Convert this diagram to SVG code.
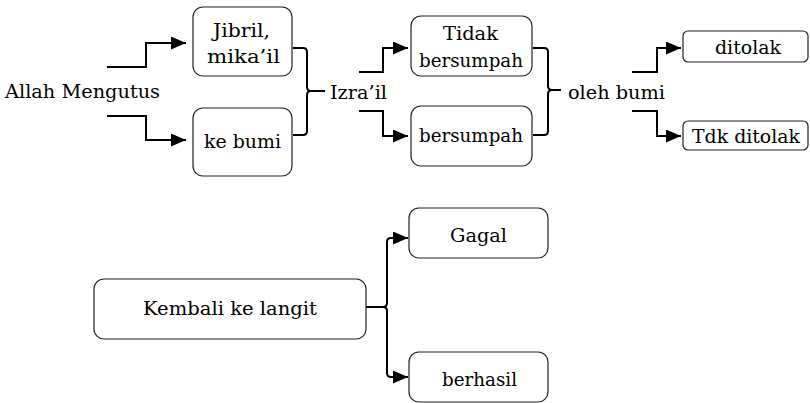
<svg xmlns="http://www.w3.org/2000/svg" width="810" height="403" viewBox="0 0 810 403">
<defs>
<marker id="ah" markerWidth="15" markerHeight="13" refX="15" refY="6.5" orient="auto" markerUnits="userSpaceOnUse">
<path d="M0,0 L15,6.5 L0,13 Z" fill="#000"/>
</marker>
<style>
.box{fill:#fff;stroke:#222;stroke-width:1.2}
.ln{fill:none;stroke:#000;stroke-width:2}
.arr{fill:none;stroke:#000;stroke-width:2;marker-end:url(#ah)}
</style>
</defs>
<rect width="810" height="403" fill="#fff"/>
<g id="connectors">
<path class="arr" d="M107,67 H146 V43 H186"/>
<path class="arr" d="M107,116 H146 V140 H186"/>
<path class="ln" d="M293,48 H303 Q307,48 307,52 V87 Q307,91 311,91 H325 M311,91 Q307,91 307,95 V131 Q307,135 303,135 H293"/>
<path class="arr" d="M359,72 H383 V48 H408"/>
<path class="arr" d="M359,111 H383 V136 H408"/>
<path class="ln" d="M533,48 H544 Q548,48 548,52 V86 Q548,90 552,90 H561 M552,90 Q548,90 548,94 V131 Q548,135 544,135 H533"/>
<path class="arr" d="M632,72 H657 V48 H681"/>
<path class="arr" d="M632,111 H657 V136 H681"/>
<path class="ln" d="M366,307 H383 Q387,307 387,303 V242 Q387,238 391,238"/>
<path class="ln" d="M383,307 Q387,307 387,311 V373 Q387,377 391,377"/>
<path class="arr" d="M390,238 H408"/>
<path class="arr" d="M390,377 H408"/>
</g>
<g font-family="DejaVu Serif, serif" font-size="19" fill="#000">
<g id="allah"><text x="5" y="98" textLength="155" lengthAdjust="spacingAndGlyphs">Allah Mengutus</text></g>
<g id="jibril">
<rect class="box" x="193" y="7" width="99" height="69" rx="10"/>
<text x="213" y="37" textLength="57" lengthAdjust="spacingAndGlyphs">Jibril,</text>
<text x="207" y="63" textLength="73" lengthAdjust="spacingAndGlyphs">mika’il</text>
</g>
<g id="kebumi">
<rect class="box" x="193" y="108" width="99" height="68" rx="10"/>
<text x="204" y="148" textLength="77" lengthAdjust="spacingAndGlyphs">ke bumi</text>
</g>
<g id="izrail"><text x="330" y="99" textLength="57" lengthAdjust="spacingAndGlyphs">Izra’il</text></g>
<g id="tidak">
<rect class="box" x="411" y="16" width="121" height="60" rx="10"/>
<text x="443" y="40" textLength="55" lengthAdjust="spacingAndGlyphs">Tidak</text>
<text x="419" y="67" textLength="104" lengthAdjust="spacingAndGlyphs">bersumpah</text>
</g>
<g id="bersumpah">
<rect class="box" x="411" y="106" width="121" height="60" rx="10"/>
<text x="419" y="142" textLength="104" lengthAdjust="spacingAndGlyphs">bersumpah</text>
</g>
<g id="olehbumi"><text x="568" y="99" textLength="97" lengthAdjust="spacingAndGlyphs">oleh bumi</text></g>
<g id="ditolak">
<rect class="box" x="683" y="31" width="125" height="31" rx="5"/>
<text x="715" y="54" textLength="66" lengthAdjust="spacingAndGlyphs">ditolak</text>
</g>
<g id="tdkditolak">
<rect class="box" x="683" y="121" width="125" height="29" rx="5"/>
<text x="692" y="143" textLength="108" lengthAdjust="spacingAndGlyphs">Tdk ditolak</text>
</g>
<g id="kembali">
<rect class="box" x="94" y="279" width="272" height="60" rx="10"/>
<text x="143" y="315" textLength="174" lengthAdjust="spacingAndGlyphs">Kembali ke langit</text>
</g>
<g id="gagal">
<rect class="box" x="409" y="208" width="139" height="50" rx="10"/>
<text x="450" y="242" textLength="57" lengthAdjust="spacingAndGlyphs">Gagal</text>
</g>
<g id="berhasil">
<rect class="box" x="409" y="352" width="139" height="50" rx="10"/>
<text x="442" y="386" textLength="75" lengthAdjust="spacingAndGlyphs">berhasil</text>
</g>
</g>
</svg>
